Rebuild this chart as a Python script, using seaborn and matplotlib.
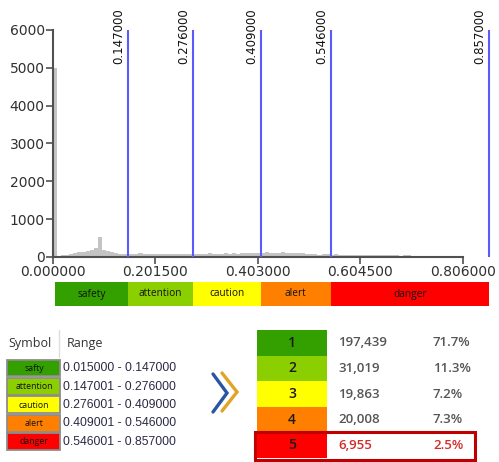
import numpy as np
import pandas as pd
import matplotlib.pyplot as plt
import seaborn as sns
from matplotlib.patches import Rectangle

# histogram of index values (bin width 0.008 from 0)
bin_width = 0.008
hist_counts = [5000, 30, 40, 50, 80, 100, 120, 130, 160, 190,
               240, 520, 180, 150, 120, 100, 90, 85, 80, 75,
               85, 100, 80, 75, 70, 80, 75, 85, 70, 80,
               75, 80, 85, 75, 80, 90, 80, 85, 95, 80,
               90, 85, 100, 90, 95, 90, 100, 95, 105, 100,
               110, 105, 120, 110, 115, 105, 120, 110, 105, 115,
               110, 100, 80, 70, 75, 65, 70, 75, 65, 70,
               60, 55, 65, 60, 55, 60, 50, 55, 45, 50,
               40, 50, 45, 40, 45, 35, 40, 45, 35, 30,
               30, 20, 25, 20, 15, 12, 10, 8, 6, 5]

thresholds = [0.147, 0.276, 0.409, 0.546, 0.857]
threshold_labels = ["0.147000", "0.276000", "0.409000", "0.546000", "0.857000"]
band_start = 0.004
x_ticks = [0.0, 0.2015, 0.403, 0.6045, 0.806]
x_tick_labels = ["0.000000", "0.201500", "0.403000", "0.604500", "0.806000"]
y_ticks = [0, 1000, 2000, 3000, 4000, 5000, 6000]

band_names = ["safety", "attention", "caution", "alert", "danger"]
legend_names = ["safty", "attention", "caution", "alert", "danger"]
class_colors = ["#34a000", "#8ccf00", "#ffff00", "#ff8000", "#ff0000"]
range_labels = ["0.015000 - 0.147000", "0.147001 - 0.276000", "0.276001 - 0.409000",
                "0.409001 - 0.546000", "0.546001 - 0.857000"]
class_ids = [1, 2, 3, 4, 5]
pixel_counts = [197439, 31019, 19863, 20008, 6955]
pixel_shares = [71.7, 11.3, 7.2, 7.3, 2.5]

sns.set_theme(style="ticks")
plt.rcParams["font.family"] = ["DejaVu Sans"]

W, H = 499, 462
fig = plt.figure(figsize=(W / 100, H / 100), dpi=100)


def box(l, t, r, b):
    return [l / W, 1 - b / H, (r - l) / W, (b - t) / H]


# ---- histogram ----
ax = fig.add_axes(box(53, 30, 495, 257))
n_bins = len(hist_counts)
centers = (np.arange(n_bins) + 0.5) * bin_width
df = pd.DataFrame({"value": centers, "count": hist_counts})
sns.histplot(data=df, x="value", weights="count", binwidth=bin_width,
             binrange=(0, n_bins * bin_width), color="#c4c4c4",
             alpha=1, linewidth=0, ax=ax)
ax.vlines(thresholds, 0, 6000, color="#5a5aff", lw=1.5, zorder=3)
x_right = 0.869
ax.set_xlim(0, x_right)
ax.set_ylim(0, 6000)
ax.set_xticks(x_ticks)
ax.set_xticklabels(x_tick_labels)
ax.set_yticks(y_ticks)
ax.set_xlabel("")
ax.set_ylabel("")
sns.despine(ax=ax)
ax.spines["bottom"].set_bounds(0, 0.806)
for s in ["left", "bottom"]:
    ax.spines[s].set_color("#505050")
    ax.spines[s].set_linewidth(1.5)
ax.tick_params(direction="out", length=5, width=1.2, color="#505050",
               labelsize=10, labelcolor="#303030", pad=1)
for t, lab in zip(thresholds, threshold_labels):
    ax.annotate(lab, xy=(t, 1), xycoords=("data", "axes fraction"),
                xytext=(-2, 15.5), textcoords="offset points", rotation=90,
                ha="right", va="top", fontsize=8.5, color="#111111")

# ---- colour band ----
axc = fig.add_axes(box(53, 282, 495, 306))
starts = [band_start] + thresholds[:-1]
widths = [e - s for s, e in zip(starts, thresholds)]
axc.barh(0, widths, left=starts, height=1, color=class_colors, linewidth=0)
for s, w, name in zip(starts, widths, band_names):
    axc.text(s + w / 2, 0, name, ha="center", va="center", fontsize=7.3,
             color="#111111", family="Open Sans")
axc.set_xlim(0, x_right)
axc.set_ylim(-0.5, 0.5)
axc.axis("off")

# ---- lower panels ----
ov = fig.add_axes([0, 0, 1, 1])
ov.set_xlim(0, W)
ov.set_ylim(H, 0)
ov.axis("off")
ov.patch.set_alpha(0)

ov.text(8, 344, "Symbol", va="center", fontsize=9, color="#333333", family="Open Sans")
ov.text(67, 344, "Range", va="center", fontsize=9, color="#333333", family="Open Sans")
ov.plot([59, 59], [330, 357], color="#dddddd", lw=1)
leg_h = 18.4
for i, (name, col, rng) in enumerate(zip(legend_names, class_colors, range_labels)):
    top = 359 + i * leg_h
    ov.add_patch(Rectangle((7.5, top + 0.5), 53, leg_h - 1.5, facecolor=col,
                           edgecolor="#8c8c8c", lw=1.3))
    ov.text(34, top + leg_h / 2, name, ha="center", va="center", fontsize=6.3,
            color="#111111", family="Open Sans")
    ov.text(63, top + leg_h / 2, rng, ha="left", va="center", fontsize=8.8,
            color="#2a2a45", family="Liberation Sans")

# chevrons
ov.plot([222, 237, 222], [373, 392, 411], color="#e0a528", lw=2.4, solid_joinstyle="miter")
ov.plot([213, 227, 213], [374, 393, 412], color="#2a55a5", lw=2.4, solid_joinstyle="miter")

# summary table
row_h = 25.6
for i, (cid, col, cnt, pct) in enumerate(zip(class_ids, class_colors, pixel_counts, pixel_shares)):
    top = 330 + i * row_h
    mid = top + row_h / 2
    ov.add_patch(Rectangle((257, top), 70, row_h, facecolor=col, edgecolor="none"))
    ov.text(292, mid, str(cid), ha="center", va="center", fontsize=10,
            fontweight="semibold", color="#1a1a1a", family="Open Sans")
    tc = "#d42a2a" if cid == 5 else "#555555"
    ov.text(338, mid, f"{cnt:,}", ha="left", va="center", fontsize=9.5,
            fontweight="semibold", color=tc, family="Open Sans")
    ov.text(433, mid, f"{pct:.1f}%", ha="left", va="center", fontsize=9.5,
            fontweight="semibold", color=tc, family="Open Sans")
ov.add_patch(Rectangle((255.5, 431.5), 219.5, 28, fill=False, edgecolor="#c00000", lw=2.2))

fig.savefig("out.png", dpi=100)
